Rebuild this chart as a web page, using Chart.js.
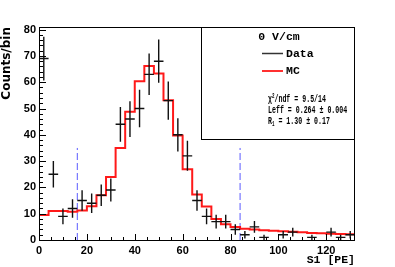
<!DOCTYPE html>
<html>
<head>
<meta charset="utf-8">
<script src="https://cdn.jsdelivr.net/npm/chart.js@4.4.0/dist/chart.umd.min.js"></script>
<style>
  html, body { margin: 0; padding: 0; background: #fff; }
  canvas { display: block; }
</style>
</head>
<body>
<canvas id="myChart" width="395" height="267"></canvas>
<script>
// S1 spectrum, 4 PE wide bins
const binCenters = [2, 6, 10, 14, 18, 22, 26, 30, 34, 38, 42, 46, 50, 54, 58, 62, 66,
  70, 74, 78, 82, 86, 90, 94, 98, 102, 106, 110, 114, 118, 122, 126, 130];
const dataCounts = [69, 25, 9, 12, 15, 14, 17, 19, 44, 46, 50, 63, 68, 53, 40, 32, 15,
  9, 7, 7, 4, 2, 5, 1, 0, 2, 3, 0, 1, 0, 3, 1, 2];
const dataErrors = [8.3, 5, 3, 3.5, 3.9, 3.7, 4.1, 4.4, 6.6, 6.8, 7.1, 7.9, 8.2, 7.3, 6.3, 5.7, 3.9,
  3, 2.6, 2.6, 2, 1.4, 2.2, 1, 0, 1.4, 1.7, 0, 1, 0, 1.7, 1, 1.4];
const binHalfWidth = 2;

// MC histogram, value per bin starting at left edge
const mcEdges = [0, 4, 8, 12, 16, 20, 24, 28, 32, 36, 40, 44, 48, 52, 56, 60, 64,
  68, 72, 76, 80, 84, 88, 92, 96, 100, 104, 108, 112, 116, 120, 124, 128, 132];
const mcCounts = [9.5, 11, 11, 10.7, 11.2, 12.8, 17, 24, 35, 48.8, 60.4, 66.2, 63.3, 53.1, 39.7, 26.9, 17.3,
  12.7, 8, 6, 4.9, 4.3, 4.0, 3.7, 3.5, 3.3, 3.1, 2.9, 2.7, 2.6, 2.4, 2.3, 2.2, 2.2];

// analysis window
const cutLow = 16;
const cutHigh = 84;
const cutTop = 35;

const xTicks = [0, 20, 40, 60, 80, 100, 120];
const yTicks = [0, 10, 20, 30, 40, 50, 60, 70, 80];
const xMinorStep = 5;
const yMinorStep = 2;

const fieldLabel = "0 V/cm";
const chiText = "/ndf = 9.5/14";
const leffText = "Leff = 0.264 \u00b1 0.004";
const r1Text = " = 1.30 \u00b1 0.17";

const mono = "'Liberation Mono', 'DejaVu Sans Mono', monospace";

const errorBars = {
  id: "errorBars",
  afterDatasetsDraw(chart) {
    const { ctx, scales: { x, y } } = chart;
    ctx.save();
    ctx.strokeStyle = "#111";
    ctx.lineWidth = 1.4;
    ctx.beginPath();
    for (let i = 0; i < binCenters.length; i++) {
      if (!dataCounts[i]) continue;
      const px = x.getPixelForValue(binCenters[i]);
      const py = y.getPixelForValue(dataCounts[i]);
      ctx.moveTo(x.getPixelForValue(binCenters[i] - binHalfWidth), py);
      ctx.lineTo(x.getPixelForValue(binCenters[i] + binHalfWidth), py);
      ctx.moveTo(px, y.getPixelForValue(dataCounts[i] + dataErrors[i]));
      ctx.lineTo(px, y.getPixelForValue(Math.max(0, dataCounts[i] - dataErrors[i])));
    }
    ctx.stroke();
    ctx.restore();
  },
};

const frameTicks = {
  id: "frameTicks",
  afterDatasetsDraw(chart) {
    const { ctx, chartArea: a, scales: { x, y } } = chart;
    ctx.save();
    ctx.strokeStyle = "#000";
    ctx.lineWidth = 1;
    ctx.beginPath();
    for (let v = 0; v <= x.max; v += xMinorStep) {
      const px = Math.round(x.getPixelForValue(v)) + 0.5;
      const len = xTicks.includes(v) ? 6 : 3;
      ctx.moveTo(px, a.bottom);
      ctx.lineTo(px, a.bottom - len);
    }
    for (let v = 0; v <= y.max; v += yMinorStep) {
      const py = Math.round(y.getPixelForValue(v)) + 0.5;
      const len = yTicks.includes(v) ? 7 : 4;
      ctx.moveTo(a.left, py);
      ctx.lineTo(a.left + len, py);
    }
    ctx.stroke();
    ctx.strokeRect(a.left + 0.5, a.top + 0.5, a.right - a.left - 1, a.bottom - a.top);
    ctx.restore();
  },
};

const legendBox = {
  id: "legendBox",
  afterDraw(chart) {
    const { ctx, chartArea: a } = chart;
    ctx.save();
    const bx = 201, by = a.top, bw = a.right - bx, bh = 112;
    ctx.fillStyle = "#fff";
    ctx.fillRect(bx, by, bw, bh);
    ctx.strokeStyle = "#000";
    ctx.lineWidth = 1;
    ctx.strokeRect(bx + 0.5, by + 0.5, bw - 1, bh);

    ctx.fillStyle = "#000";
    ctx.textBaseline = "middle";
    ctx.font = "bold 11.5px " + mono;
    ctx.textAlign = "center";
    ctx.fillText(fieldLabel, 279, 37);

    ctx.textAlign = "left";
    ctx.lineWidth = 1.5;
    ctx.strokeStyle = "#333";
    ctx.beginPath();
    ctx.moveTo(262, 53.5);
    ctx.lineTo(283, 53.5);
    ctx.stroke();
    ctx.fillText("Data", 286, 54);

    ctx.strokeStyle = "#ff3030";
    ctx.lineWidth = 2;
    ctx.beginPath();
    ctx.moveTo(262, 71);
    ctx.lineTo(283, 71);
    ctx.stroke();
    ctx.fillText("MC", 286, 71);

    // fit results, narrow text
    const sx = 0.6;
    ctx.translate(268, 0);
    ctx.scale(sx, 1);
    ctx.font = "bold 11px " + mono;
    ctx.fillText("\u03c7", 0, 99);
    let w = ctx.measureText("\u03c7").width;
    ctx.font = "bold 7px " + mono;
    ctx.fillText("2", w, 96);
    w += ctx.measureText("2").width;
    ctx.font = "bold 11px " + mono;
    ctx.fillText(chiText, w, 99);

    ctx.fillText(leffText, 0, 110);

    ctx.fillText("R", 0, 121);
    w = ctx.measureText("R").width;
    ctx.font = "bold 7px " + mono;
    ctx.fillText("1", w, 124);
    w += ctx.measureText("1").width;
    ctx.font = "bold 11px " + mono;
    ctx.fillText(r1Text, w, 121);
    ctx.restore();
  },
};

const tickFont = { family: "'Liberation Sans', Arial, sans-serif", weight: "bold", size: 11 };

new Chart(document.getElementById("myChart"), {
  type: "scatter",
  data: {
    datasets: [
      {
        label: "Data",
        data: binCenters.map((c, i) => ({ x: c, y: dataCounts[i] })),
        pointRadius: 0,
        showLine: false,
      },
      {
        type: "line",
        label: "MC",
        data: mcEdges.map((e, i) => ({ x: e, y: mcCounts[i] })),
        stepped: "before",
        borderColor: "rgba(255,0,0,0.9)",
        borderWidth: 2,
        pointRadius: 0,
        fill: false,
      },
      {
        type: "line",
        label: "cut low",
        data: [{ x: cutLow, y: 0 }, { x: cutLow, y: cutTop }],
        borderColor: "#5a5aff",
        borderWidth: 1,
        borderDash: [7, 3],
        pointRadius: 0,
      },
      {
        type: "line",
        label: "cut high",
        data: [{ x: cutHigh, y: 0 }, { x: cutHigh, y: cutTop }],
        borderColor: "#5a5aff",
        borderWidth: 1,
        borderDash: [7, 3],
        pointRadius: 0,
      },
    ],
  },
  options: {
    responsive: false,
    devicePixelRatio: 1,
    animation: false,
    layout: { padding: { top: 27, right: 40, left: 0, bottom: 0 } },
    plugins: { legend: { display: false }, tooltip: { enabled: false } },
    scales: {
      x: {
        type: "linear",
        min: 0,
        max: 132,
        grid: { display: false, drawTicks: false },
        border: { display: false },
        afterBuildTicks: (s) => { s.ticks = xTicks.map((v) => ({ value: v })); },
        afterFit: (s) => { s.height = 27; },
        ticks: { font: tickFont, color: "#000", padding: 4, maxRotation: 0 },
        title: {
          display: true,
          text: "S1 [PE]",
          align: "end",
          color: "#000",
          padding: 0,
          font: { family: mono, weight: "bold", size: 11.5 },
        },
      },
      y: {
        type: "linear",
        min: 0,
        max: 81,
        grid: { display: false, drawTicks: false },
        border: { display: false },
        afterBuildTicks: (s) => { s.ticks = yTicks.map((v) => ({ value: v })); },
        afterFit: (s) => { s.width = 39; },
        ticks: { font: tickFont, color: "#000", padding: 3 },
        title: {
          display: true,
          text: "Counts/bin",
          align: "end",
          color: "#000",
          padding: 0,
          font: { family: "'DejaVu Sans', sans-serif", weight: "bold", size: 12 },
        },
      },
    },
  },
  plugins: [errorBars, frameTicks, legendBox],
});
</script>
</body>
</html>
